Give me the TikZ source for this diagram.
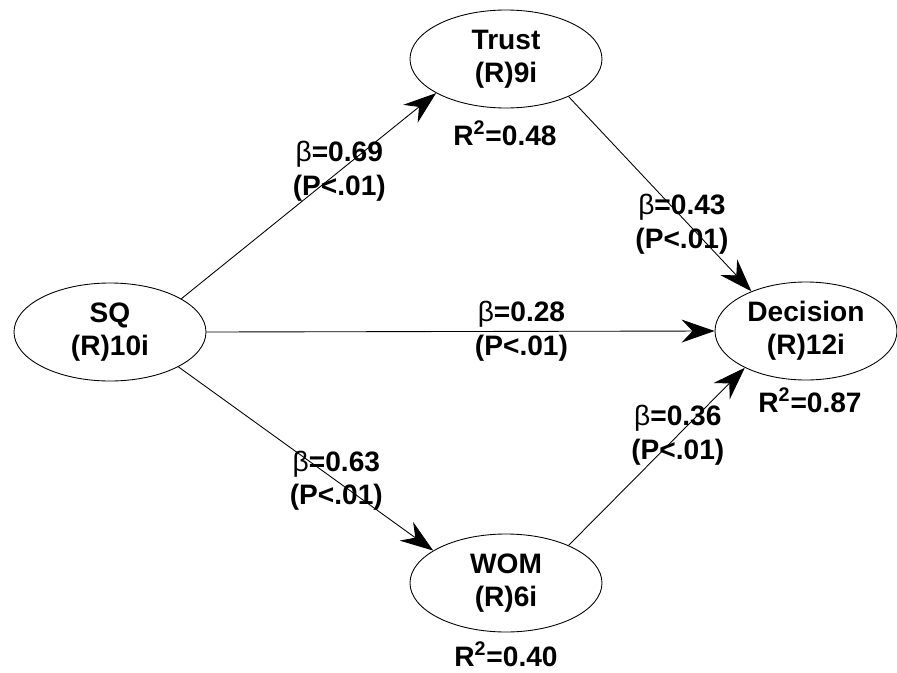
\documentclass[tikz,border=0pt]{standalone}
\usepackage{fontspec}
\setmainfont{Liberation Sans}
\usetikzlibrary{shapes.geometric, arrows.meta}

\begin{document}
\begin{tikzpicture}[
    x=0.02cm, y=-0.02cm,
    construct/.style={draw, ellipse, line width=0.5pt, minimum width=192*0.02cm,
                      minimum height=98*0.02cm, inner sep=0pt, align=center,
                      font=\fontsize{16}{19}\selectfont\bfseries},
    path/.style={-{Stealth[length=0.66cm, width=0.46cm, inset=0.22cm]}, line width=0.5pt},
    coef/.style={align=center, inner sep=1pt, font=\fontsize{16}{19}\selectfont\bfseries},
    rsq/.style={font=\fontsize{16}{19}\selectfont\bfseries, inner sep=1pt}
]
\useasboundingbox (0,0) rectangle (897,673);

% Constructe
\node[construct] (sq)    at (110,332) {SQ\\(R)10i};
\node[construct] (trust) at (506,59)  {Trust\\(R)9i};
\node[construct] (wom)   at (506,583) {WOM\\(R)6i};
\node[construct, minimum width=182*0.02cm] (dec) at (806,331) {Decision\\(R)12i};

% R^2
\node[rsq] (trustr) at (505,133) {R\textsuperscript{2}=0.48};
\node[rsq] (decr)   at (810,400) {R\textsuperscript{2}=0.87};
\node[rsq] (womr)   at (506,654) {R\textsuperscript{2}=0.40};

% Cai
\draw[path] (sq.25) -- node[coef, pos=0.62] (b1) {{\mdseries β}=0.69\\(P<.01)} (trust.206);
\draw[path] (sq.-27) -- node[coef, pos=0.62] (b2) {{\mdseries β}=0.63\\(P<.01)} (wom.156);
\draw[path] (sq.east) -- node[coef, pos=0.62] (b3) {{\mdseries β}=0.28\\(P<.01)} (dec.west);
\draw[path] (trust.-31) -- node[coef, pos=0.62, yshift=-7*0.02cm] (b4) {{\mdseries β}=0.43\\(P<.01)} (dec.144);
\draw[path] (wom.31) -- node[coef, pos=0.62] (b5) {{\mdseries β}=0.36\\(P<.01)} (dec.211);

\end{tikzpicture}
\end{document}
